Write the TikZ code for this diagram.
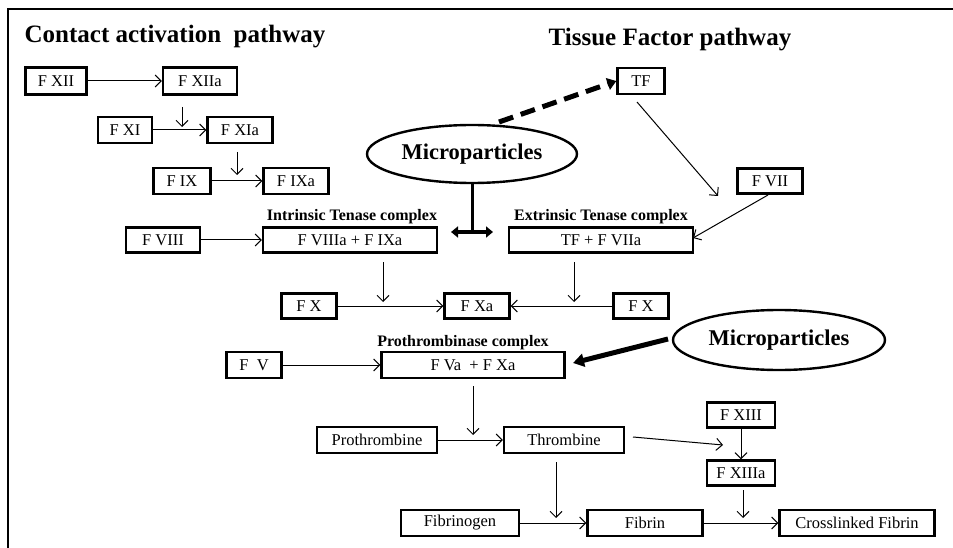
\documentclass[tikz,border=0pt]{standalone}
\usepackage{fontspec}
\setmainfont{Liberation Serif}
\usetikzlibrary{arrows.meta,shapes.geometric}
\tikzset{
  box/.style={draw, line width=2.3pt, inner sep=0pt, font=\fontsize{16.5}{19}\selectfont},
  lbl/.style={font=\bfseries\fontsize{16}{19}\selectfont, inner sep=0pt},
  ttl/.style={font=\bfseries\fontsize{25}{29}\selectfont, inner sep=0pt},
  mp/.style={draw, ellipse, line width=2.4pt, inner sep=0pt, font=\bfseries\fontsize{22.5}{26}\selectfont},
  ar/.style={line width=1pt, -{Straight Barb[length=6pt,width=12pt,line width=1pt]}},
  fat/.style={line width=5pt, -{Triangle[length=11pt,width=13pt]}},
}
\begin{document}
\begin{tikzpicture}[x=1pt,y=-1pt]
\useasboundingbox (0,0) rectangle (953,548);
\draw[line width=2.7pt] (8,548) -- (8,9) -- (953,9);

% titles
\node[ttl] (t1) at (175,37) {Contact activation\ \ pathway};
\node[ttl] (t2) at (670,40) {Tissue Factor pathway};

% contact pathway
\node[box, minimum width=61pt, minimum height=27pt] (fxii)  at (56,81)  {F XII};
\node[box, minimum width=74pt, minimum height=27pt] (fxiia) at (200,81) {F XIIa};
\node[box, minimum width=54pt, minimum height=26pt] (fxi)   at (125,130) {F XI};
\node[box, minimum width=65pt, minimum height=26pt] (fxia)  at (240,130) {F XIa};
\node[box, minimum width=57pt, minimum height=26pt] (fix)   at (182,181) {F IX};
\node[box, minimum width=65pt, minimum height=26pt] (fixa)  at (296,181) {F IXa};

% tissue factor pathway
\node[box, minimum width=47pt, minimum height=26pt] (tf)   at (641,81)  {TF};
\node[box, minimum width=65pt, minimum height=25pt] (fvii) at (770,181) {F VII};

% microparticles
\node[mp, minimum width=210pt, minimum height=58pt] (mp1) at (472,154) {Microparticles};
\node[mp, minimum width=212pt, minimum height=60pt] (mp2) at (779,340) {Microparticles};

% tenase complexes
\node[lbl] (l1) at (352,217) {Intrinsic Tenase complex};
\node[lbl] (l2) at (601,217) {Extrinsic Tenase complex};
\node[box, minimum width=74pt,  minimum height=25pt] (fviii) at (163,240) {F VIII};
\node[box, minimum width=174pt, minimum height=25pt] (ten1)  at (350,240) {F VIIIa + F IXa};
\node[box, minimum width=184pt, minimum height=25pt] (ten2)  at (601,240) {TF + F VIIa};

\node[box, minimum width=55pt, minimum height=25pt] (fx1) at (309,306) {F X};
\node[box, minimum width=65pt, minimum height=25pt] (fxa) at (477,306) {F Xa};
\node[box, minimum width=55pt, minimum height=25pt] (fx2) at (641,306) {F X};

% prothrombinase
\node[lbl] (l3) at (463,343) {Prothrombinase complex};
\node[box, minimum width=55pt,  minimum height=26pt] (fv)  at (254,365) {F\ \ V};
\node[box, minimum width=183pt, minimum height=26pt] (pro) at (473,365) {F Va\ \ + F Xa};

% bottom
\node[box, minimum width=120pt, minimum height=26pt] (proth) at (377,440) {Prothrombine};
\node[box, minimum width=120pt, minimum height=26pt] (thr)   at (564,440) {Thrombine};
\node[box, minimum width=68pt,  minimum height=25pt] (fxiii)  at (741,415) {F XIII};
\node[box, minimum width=68pt,  minimum height=25pt] (fxiiia) at (741,473) {F XIIIa};
\node[box, minimum width=118pt, minimum height=26pt] (fbg)   at (460,523) {Fibrinogen};
\node[box, minimum width=115pt, minimum height=26pt] (fbn)   at (645,523) {Fibrin};
\node[box, minimum width=155pt, minimum height=26pt] (cfb)   at (857,523) {Crosslinked Fibrin};

% free-end coordinates
\coordinate (a1s) at (182,107); \coordinate (a1e) at (182,127);
\coordinate (a2s) at (237,152); \coordinate (a2e) at (237,175);
\coordinate (a3s) at (383,262); \coordinate (a3e) at (383,302);
\coordinate (a4s) at (574,262); \coordinate (a4e) at (574,302);
\coordinate (a5s) at (473,386); \coordinate (a5e) at (473,435);
\coordinate (a6s) at (633,437); \coordinate (a6e) at (723,445);
\coordinate (a7s) at (556,462); \coordinate (a7e) at (556,518);
\coordinate (a8s) at (743,490); \coordinate (a8e) at (743,518);
\coordinate (tfs) at (637,102); \coordinate (tfe) at (718,196);
\coordinate (fvs) at (768,195); \coordinate (fve) at (693,238);
\coordinate (ds)  at (499,122);
\coordinate (m2s) at (668,339); \coordinate (m2e) at (573,363);
\coordinate (tb)  at (472,232); \coordinate (tl) at (451,232); \coordinate (tr) at (493,232);

% arrows
\draw[ar] (fxii) -- (fxiia);
\draw[ar] (a1s) -- (a1e);
\draw[ar] (fxi) -- (fxia);
\draw[ar] (a2s) -- (a2e);
\draw[ar] (fix) -- (fixa);
\draw[ar] (fviii) -- (ten1);
\draw[ar] (a3s) -- (a3e);
\draw[ar] (a4s) -- (a4e);
\draw[ar] (fx1) -- (fxa);
\draw[ar] (fx2) -- (fxa);
\draw[ar] (fv) -- (pro);
\draw[ar] (a5s) -- (a5e);
\draw[ar] (proth) -- (thr);
\draw[ar] (a6s) -- (a6e);
\draw[ar] (fxiii) -- (fxiiia);
\draw[ar] (a7s) -- (a7e);
\draw[ar] (fbg) -- (fbn);
\draw[ar] (a8s) -- (a8e);
\draw[ar] (fbn) -- (cfb);
\draw[ar] (tfs) -- (tfe);
\draw[ar] (fvs) -- (fve);

% microparticle effects
\draw[line width=5pt, dash pattern=on 15pt off 8pt, -{Triangle[length=9pt,width=12pt]}] (ds) -- (tf.west);
\draw[fat] (m2s) -- (m2e);
\draw[line width=3pt] (mp1.south) -- (tb);
\draw[line width=4pt, {Triangle[length=7pt,width=11pt]}-{Triangle[length=7pt,width=11pt]}] (tl) -- (tr);
\end{tikzpicture}
\end{document}
